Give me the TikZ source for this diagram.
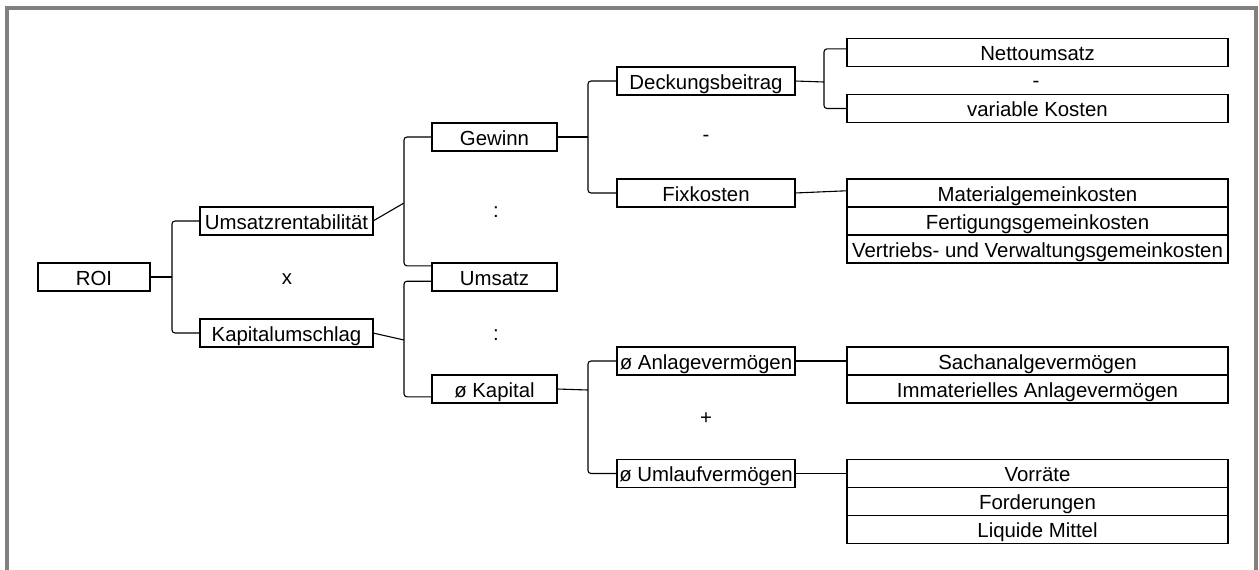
\documentclass[tikz,border=0pt]{standalone}
\usepackage{fontspec}
\setmainfont{Liberation Sans}
\usetikzlibrary{positioning, calc}

\begin{document}
\begin{tikzpicture}[x=1pt, y=-1pt, font=\fontsize{20.4}{24}\selectfont]
  \tikzset{
    box/.style={rectangle, draw, line width=1.8pt, outer sep=0pt, inner sep=0pt,
      minimum height=28pt, minimum width=#1, text height=18pt, text depth=2pt},
    box/.default=125pt,
    link/.style={line width=1.1pt, rounded corners=3pt},
    op/.style={inner sep=0pt},
  }
  \useasboundingbox (0,0) rectangle (1259,570);
  \draw[line width=3.5pt, gray] (7,575) -- (7,8) -- (1256,8) -- (1256,575);

  \node[box=112pt] (roi) at (94,277) {ROI};
  \node[box=173pt] (ur) at (286.5,221) {Umsatzrentabilität};
  \node[box=173pt] (ku) at (286.5,333) {Kapitalumschlag};
  \node[box] (gew) at (494.5,137) {Gewinn};
  \node[box] (ums) at (494.5,277) {Umsatz};
  \node[box] (kap) at (494.5,389) {ø Kapital};
  \node[box=178pt] (db) at (706,81) {Deckungsbeitrag};
  \node[box=178pt] (fk) at (706,193) {Fixkosten};
  \node[box=178pt] (av) at (706,361) {ø Anlagevermögen};
  \node[box=178pt] (uv) at (706,473.5) {ø Umlaufvermögen};

  \node[box=381pt] (netto) at (1037.5,52.5) {Nettoumsatz};
  \node[box=381pt] (varko) at (1037.5,108.5) {variable Kosten};
  \node[box=381pt] (mgk) at (1037.5,193) {Materialgemeinkosten};
  \node[box=381pt, below=0pt of mgk] (fgk) {Fertigungsgemeinkosten};
  \node[box=381pt, below=0pt of fgk] (vvgk) {Vertriebs- und Verwaltungsgemeinkosten};
  \node[box=381pt] (sav) at (1037.5,361) {Sachanalgevermögen};
  \node[box=381pt, below=0pt of sav] (iav) {Immaterielles Anlagevermögen};
  \node[box=381pt] (vor) at (1037.5,473.5) {Vorräte};
  \node[box=381pt, below=0pt of vor] (ford) {Forderungen};
  \node[box=381pt, below=0pt of ford] (lm) {Liquide Mittel};

  \node[op] (mul) at (287,279) {x};
  \node[op] (div1) at (496,212) {:};
  \node[op] (div2) at (496,335) {:};
  \node[op] (sub1) at (706,138) {-};
  \node[op] (add) at (706,419) {+};
  \node[op] (sub2) at (1036,84) {-};

  \coordinate (b1) at (172,277);
  \coordinate (b2) at (404,203);
  \coordinate (b3) at (404,340);
  \coordinate (b4) at (588,137);
  \coordinate (b5) at (588,390);
  \coordinate (b6) at (824,82);

  \draw[link] (roi.east) -- (b1);
  \draw[link] (ur.west) -| (b1) |- (ku.west);
  \draw[link] (ur.east) -- (b2);
  \draw[link] (gew.west) -| (b2) |- ($(ums.north west)!0.1!(ums.south west)$);
  \draw[link] (ku.east) -- (b3);
  \draw[link] ($(ums.north west)!0.65!(ums.south west)$) -| (b3) |- ($(kap.north west)!0.78!(kap.south west)$);
  \draw[link] (gew.east) -- (b4);
  \draw[link] (db.west) -| (b4) |- (fk.west);
  \draw[link] (kap.east) -- (b5);
  \draw[link] (av.west) -| (b5) |- (uv.west);
  \draw[link] (db.east) -- (b6);
  \draw[link] ($(netto.north west)!0.37!(netto.south west)$) -| (b6) |- (varko.west);
  \draw[link] (fk.east) -- ($(mgk.north west)!0.42!(mgk.south west)$);
  \draw[link] (av.east) -- (sav.west);
  \draw[link] (uv.east) -- (vor.west);
\end{tikzpicture}
\end{document}
